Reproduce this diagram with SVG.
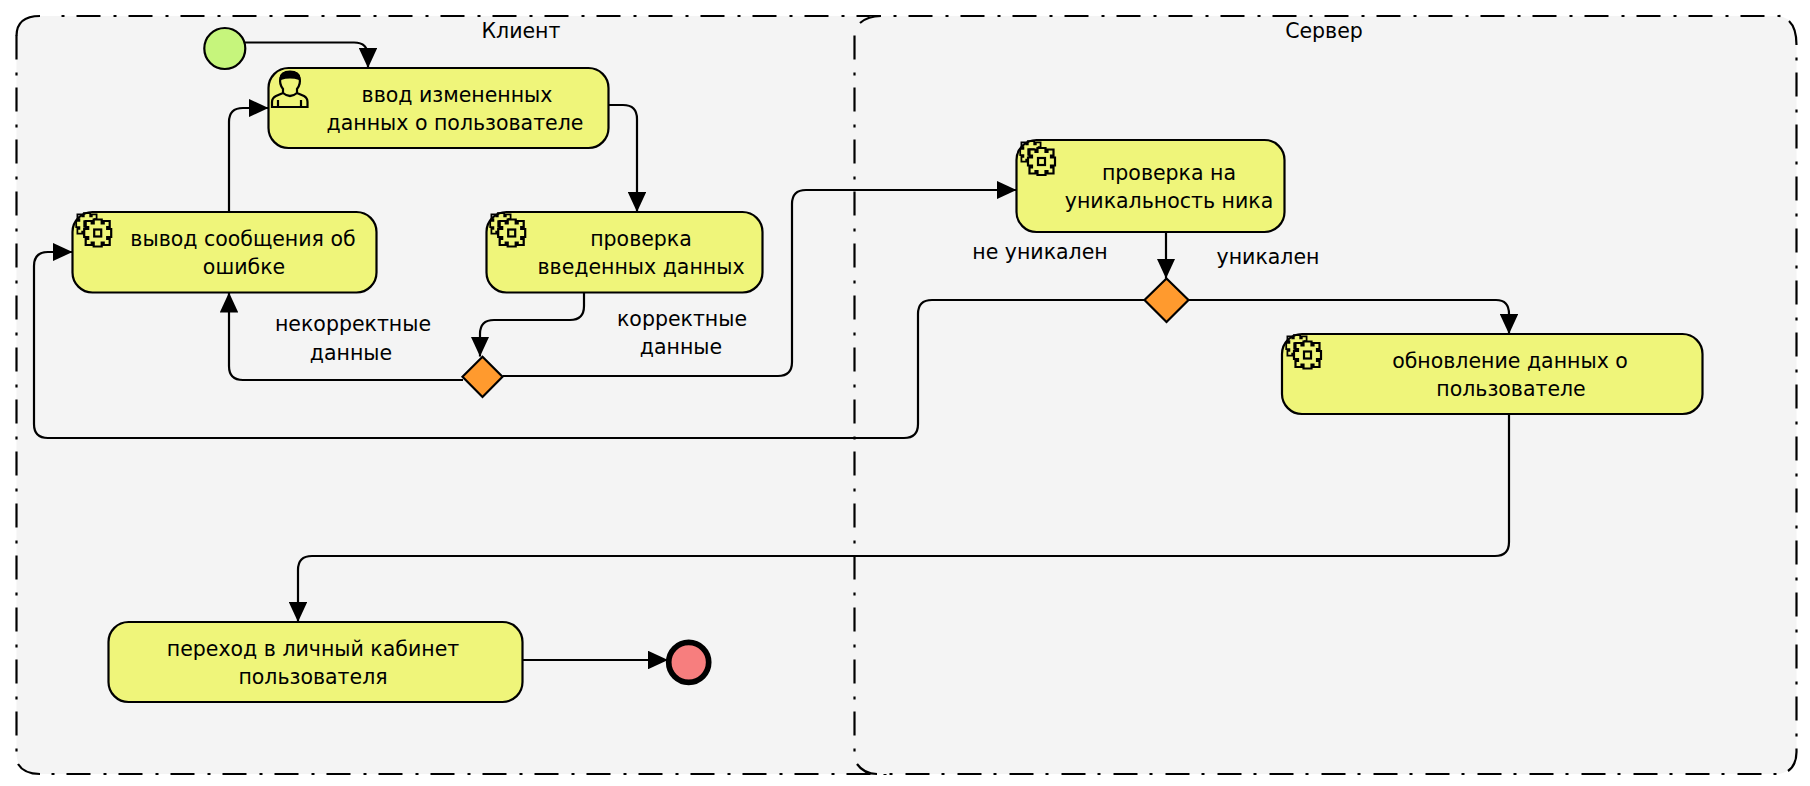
<svg xmlns="http://www.w3.org/2000/svg" xmlns:xlink="http://www.w3.org/1999/xlink" width="1810" height="786" viewBox="0 0 1810 786">
<style>
text{font-family:"DejaVu Sans","Liberation Sans",sans-serif;font-size:20.500px;fill:#000;text-anchor:middle}
.pool{fill:#f4f4f4;stroke:none}
.edge{fill:none;stroke:#000;stroke-width:2.200;stroke-dasharray:24 13 3 12}
.corner{fill:none;stroke:#000;stroke-width:2.200}
.task{fill:#eff57a;stroke:#000;stroke-width:2.200}
.gw{fill:#ff9a2e;stroke:#000;stroke-width:2.200}
.conn path{fill:none;stroke:#000;stroke-width:2.200}
.ico{fill:none;stroke:#000;stroke-width:2.200}
</style>
<defs>
<marker id="arrow" markerUnits="userSpaceOnUse" markerWidth="20" markerHeight="18.500" refX="20" refY="9.250" orient="auto" viewBox="0 0 20 18.500"><path d="M0 0L20 9.250L0 18.500Z" fill="#000"/></marker>
<g id="gear"><path d="M-4-13.500H4V-9.500H6V-12H12V-6H9.500V-4H13.500V4H9.500V6H12V12H6V9.500H4V13.500H-4V9.500H-6V12H-12V6H-9.500V4H-13.500V-4H-9.500V-6H-12V-12H-6V-9.500H-4Z"/><rect x="-3.500" y="-3.500" width="7" height="7"/></g>
</defs>
<rect width="1810" height="786" fill="#fff"/>
<g id="pool-client"><rect class="pool" x="16.500" y="16" width="880" height="758" rx="20"/><path class="edge" d="M16.500 35.500V763"/><path class="edge" style="stroke-dashoffset:24" d="M48.500 16H880.500"/><path class="edge" style="stroke-dashoffset:25.500" d="M40 774H887"/><path class="corner" d="M16.500 36Q16.500 16 40 16M18 764Q24 774 40 774"/><text x="521" y="38">Клиент</text></g>
<g id="pool-server"><rect class="pool" x="854.500" y="16" width="942" height="758" rx="20"/><path class="edge" d="M854.500 35.500V763"/><path class="edge" style="stroke-dashoffset:24" d="M880.500 16H1781"/><path class="edge" style="stroke-dashoffset:24.500" d="M1796.500 45V749"/><path class="edge" style="stroke-dashoffset:30.500" d="M1783 774H881"/><path class="corner" d="M860 23Q868 16 881 16M1789 21Q1796.500 28 1796.500 45M1796.500 749V752Q1796.500 765 1788 771M857 764Q864 774 877 774"/><text x="1324" y="38">Сервер</text></g>
<g id="connectors" class="conn">
<path marker-end="url(#arrow)" d="M245 42.500H354Q368 42.500 368 56.500V68"/>
<path marker-end="url(#arrow)" d="M608.500 105H623Q637 105 637 119V212"/>
<path marker-end="url(#arrow)" d="M229 212V122Q229 108 243 108H268.500"/>
<path marker-end="url(#arrow)" d="M584 292.500V306Q584 320 570 320H494Q480 320 480 334V356.500"/>
<path marker-end="url(#arrow)" d="M463 380H243Q229 380 229 366V292.500"/>
<path marker-end="url(#arrow)" d="M502.500 376H778Q792 376 792 362V204Q792 190 806 190H1016.500"/>
<path marker-end="url(#arrow)" d="M1166 232V278.500"/>
<path marker-end="url(#arrow)" d="M1188 300H1496Q1509 300 1509 314V334"/>
<path marker-end="url(#arrow)" d="M1144 300H932Q918 300 918 314V424Q918 438 904 438H48Q34 438 34 424V266Q34 252 48 252H72.500"/>
<path marker-end="url(#arrow)" d="M1509 414V542Q1509 556 1495 556H312Q298 556 298 570V622"/>
<path marker-end="url(#arrow)" d="M522.500 660H668"/>
</g>
<g id="start"><circle cx="224.800" cy="48.500" r="20.500" fill="#c6f57c" stroke="#000" stroke-width="2.200"/></g>
<g id="task-input"><rect class="task" x="268.500" y="68" width="340" height="80" rx="20"/><g class="ico"><path d="M283 89Q279 84 280.500 78Q281 72 290 72Q299 72 299.500 78Q301 84 297 89V93L304 96Q307.500 98 307.500 102V107H272V102Q272 98 276 96L283 93Z"/><path d="M280.500 79Q281 71.500 290 71.500Q299 71.500 299.500 79Q290 76 280.500 79Z" fill="#000"/><path d="M278 100V107M301 100V107M283 93Q290 99 297 93"/></g><text x="457" y="102">ввод измененных</text><text x="455" y="130">данных о пользователе</text></g>
<g id="task-error"><rect class="task" x="72.500" y="212" width="304" height="80.500" rx="20"/><g class="ico"><use xlink:href="#gear" transform="translate(87 224) scale(.8)"/><use xlink:href="#gear" transform="translate(97.700 233)" style="fill:#eff57a"/></g><text x="243" y="246">вывод сообщения об</text><text x="244" y="274">ошибке</text></g>
<g id="task-check"><rect class="task" x="486.500" y="212" width="276" height="80.500" rx="20"/><g class="ico"><use xlink:href="#gear" transform="translate(501 224) scale(.8)"/><use xlink:href="#gear" transform="translate(511.700 233)" style="fill:#eff57a"/></g><text x="641" y="246">проверка</text><text x="641" y="274">введенных данных</text></g>
<g id="gw-check"><path class="gw" d="M482.500 356.700L502.500 376.700L482.500 397L462.500 376.700Z"/></g>
<g id="task-unique"><rect class="task" x="1016.500" y="140" width="268" height="92" rx="20"/><g class="ico"><use xlink:href="#gear" transform="translate(1031 152) scale(.8)"/><use xlink:href="#gear" transform="translate(1041.500 161.500)" style="fill:#eff57a"/></g><text x="1169" y="180">проверка на</text><text x="1169" y="208">уникальность ника</text></g>
<g id="gw-unique"><path class="gw" d="M1166.500 278.500L1188.500 300L1166.500 322L1144.500 300Z"/></g>
<g id="task-update"><rect class="task" x="1282" y="334" width="420.500" height="80" rx="20"/><g class="ico"><use xlink:href="#gear" transform="translate(1297 346) scale(.8)"/><use xlink:href="#gear" transform="translate(1307.500 355)" style="fill:#eff57a"/></g><text x="1510" y="368">обновление данных о</text><text x="1511" y="396">пользователе</text></g>
<g id="task-cabinet"><rect class="task" x="108.500" y="622" width="414" height="80" rx="20"/><text x="313" y="656">переход в личный кабинет</text><text x="313" y="684">пользователя</text></g>
<g id="end"><circle cx="688.700" cy="662.300" r="20" fill="#f77e7e" stroke="#000" stroke-width="5.700"/></g>
<g id="labels"><text x="353" y="331">некорректные</text><text x="351" y="360">данные</text><text x="682" y="326">корректные</text><text x="681" y="354">данные</text><text x="1040" y="259">не уникален</text><text x="1268" y="264">уникален</text></g>
</svg>
